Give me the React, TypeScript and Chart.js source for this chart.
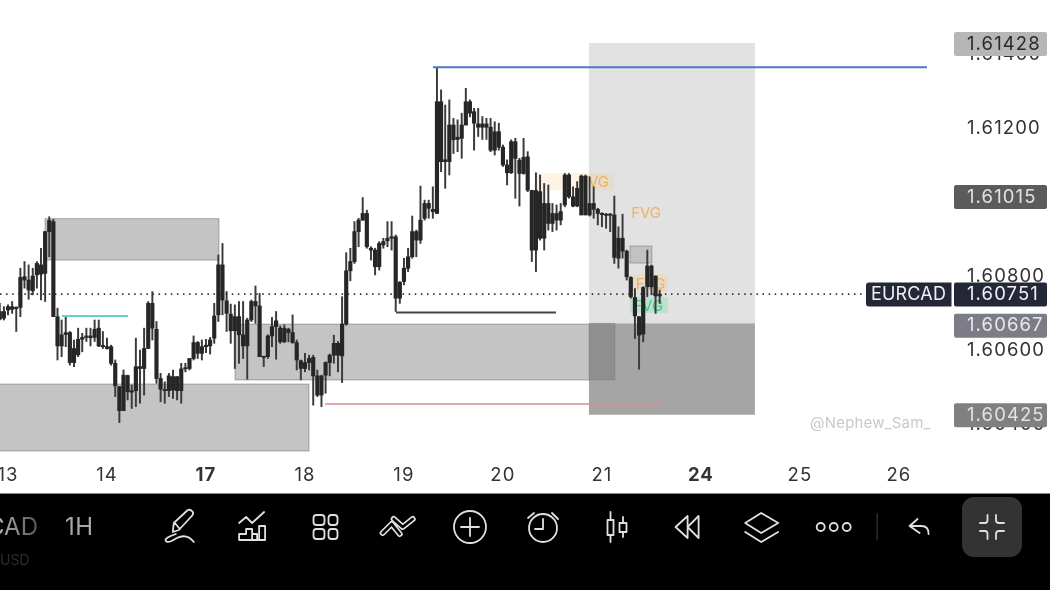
import React, { useEffect, useRef } from "react";
import { Chart, registerables } from "chart.js";

Chart.register(...registerables);

const FONT = "Inter, 'Liberation Sans', sans-serif";

// hourly candles: position 0 is the first bar of day "13", one unit is one hour
const firstHour = -2;
const opens = [
1.60683,1.60704,1.60708,1.60717,1.60712,1.60715,1.60798,1.60789,1.60760,1.60803,1.60830,1.60807,1.60920,1.60947,1.60690,1.60611,1.60642,1.60647,1.60566,1.60587,
1.60629,1.60634,1.60638,1.60634,1.60659,1.60611,1.60609,1.60609,1.60564,1.60501,1.60436,1.60531,1.60486,1.60490,1.60555,1.60550,1.60604,1.60726,1.60656,1.60523,
1.60492,1.60490,1.60528,1.60490,1.60490,1.60549,1.60550,1.60577,1.60620,1.60591,1.60609,1.60611,1.60632,1.60695,1.60830,1.60733,1.60697,1.60652,1.60690,1.60641,
1.60611,1.60681,1.60731,1.60719,1.60582,1.60582,1.60638,1.60663,1.60659,1.60622,1.60656,1.60647,1.60620,1.60571,1.60550,1.60566,1.60580,1.60530,1.60478,1.60532,
1.60566,1.60586,1.60618,1.60584,1.60670,1.60814,1.60839,1.60920,1.60951,1.60969,1.60875,1.60870,1.60825,1.60884,1.60895,1.60902,1.60906,1.60740,1.60785,1.60821,
1.60852,1.60920,1.60897,1.60956,1.60996,1.60980,1.60969,1.61271,1.61109,1.61109,1.61208,1.61169,1.61172,1.61208,1.61271,1.61244,1.61211,1.61202,1.61211,1.61202,
1.61140,1.61190,1.61148,1.61100,1.61079,1.61163,1.61113,1.61077,1.61122,1.61031,1.60870,1.61028,1.60902,1.60996,1.60942,1.60969,1.60951,1.60992,1.61073,1.61014,
1.60989,1.60965,1.61070,1.60965,1.60996,1.60980,1.60969,1.60967,1.60967,1.60965,1.60848,1.60902,1.60867,1.60796,1.60742,1.60690,1.60643,1.60771,1.60827,1.60800,
1.60746];
const closes = [
1.60704,1.60686,1.60717,1.60710,1.60715,1.60796,1.60789,1.60762,1.60800,1.60834,1.60805,1.60920,1.60950,1.60690,1.60611,1.60641,1.60647,1.60566,1.60604,1.60629,
1.60634,1.60638,1.60633,1.60656,1.60611,1.60609,1.60604,1.60564,1.60503,1.60436,1.60532,1.60487,1.60490,1.60555,1.60550,1.60604,1.60726,1.60659,1.60523,1.60494,
1.60490,1.60530,1.60492,1.60528,1.60549,1.60550,1.60577,1.60620,1.60591,1.60609,1.60613,1.60627,1.60692,1.60830,1.60735,1.60699,1.60652,1.60690,1.60641,1.60611,
1.60681,1.60731,1.60719,1.60582,1.60580,1.60638,1.60663,1.60679,1.60622,1.60659,1.60647,1.60620,1.60573,1.60550,1.60566,1.60577,1.60530,1.60478,1.60530,1.60566,
1.60586,1.60618,1.60586,1.60670,1.60814,1.60839,1.60920,1.60951,1.60969,1.60879,1.60870,1.60825,1.60888,1.60893,1.60902,1.60906,1.60740,1.60783,1.60821,1.60852,
1.60920,1.60897,1.60951,1.60996,1.60983,1.60974,1.61271,1.61109,1.61114,1.61208,1.61168,1.61175,1.61208,1.61271,1.61240,1.61213,1.61202,1.61211,1.61202,1.61140,
1.61190,1.61148,1.61100,1.61079,1.61163,1.61118,1.61077,1.61121,1.61032,1.60870,1.61031,1.60902,1.60996,1.60942,1.60969,1.60951,1.60974,1.61073,1.61014,1.60989,
1.61037,1.61070,1.60965,1.60996,1.60980,1.60969,1.60966,1.60964,1.60964,1.60850,1.60902,1.60867,1.60798,1.60744,1.60692,1.60640,1.60769,1.60827,1.60771,1.60746,
1.60751];
const highs = [
1.60726,1.60717,1.60722,1.60731,1.60717,1.60821,1.60839,1.60830,1.60821,1.60839,1.60875,1.60920,1.60960,1.60953,1.60713,1.60681,1.60690,1.60650,1.60627,1.60659,
1.60645,1.60659,1.60659,1.60681,1.60681,1.60650,1.60632,1.60613,1.60573,1.60501,1.60546,1.60532,1.60505,1.60632,1.60600,1.60659,1.60731,1.60758,1.60677,1.60537,
1.60514,1.60537,1.60546,1.60528,1.60564,1.60564,1.60577,1.60638,1.60623,1.60627,1.60629,1.60634,1.60726,1.60857,1.60888,1.60758,1.60724,1.60722,1.60731,1.60731,
1.60686,1.60735,1.60773,1.60753,1.60582,1.60641,1.60688,1.60704,1.60665,1.60668,1.60659,1.60695,1.60627,1.60573,1.60591,1.60586,1.60586,1.60546,1.60532,1.60568,
1.60589,1.60640,1.60623,1.60744,1.60863,1.60875,1.60947,1.60956,1.61012,1.60978,1.60879,1.60875,1.60893,1.60902,1.60947,1.60947,1.60911,1.60785,1.60848,1.60875,
1.60962,1.60924,1.61043,1.61005,1.61005,1.61041,1.61364,1.61303,1.61262,1.61276,1.61226,1.61222,1.61240,1.61307,1.61276,1.61253,1.61253,1.61231,1.61226,1.61226,
1.61217,1.61213,1.61154,1.61114,1.61168,1.61172,1.61118,1.61172,1.61136,1.61032,1.61079,1.61073,1.61050,1.61046,1.60996,1.60992,1.60996,1.61077,1.61077,1.61041,
1.61055,1.61073,1.61073,1.61068,1.61041,1.60983,1.60971,1.60969,1.60969,1.61016,1.60933,1.60967,1.60870,1.60798,1.60766,1.60690,1.60771,1.60870,1.60830,1.60800,
1.60762];
const lows = [
1.60681,1.60681,1.60695,1.60699,1.60650,1.60690,1.60767,1.60737,1.60749,1.60767,1.60735,1.60731,1.60852,1.60690,1.60573,1.60582,1.60609,1.60559,1.60555,1.60582,
1.60595,1.60623,1.60611,1.60623,1.60609,1.60604,1.60602,1.60559,1.60474,1.60404,1.60436,1.60465,1.60442,1.60447,1.60456,1.60478,1.60604,1.60627,1.60510,1.60460,
1.60456,1.60474,1.60469,1.60465,1.60456,1.60541,1.60546,1.60573,1.60577,1.60573,1.60593,1.60589,1.60618,1.60677,1.60695,1.60650,1.60618,1.60550,1.60564,1.60577,
1.60521,1.60677,1.60672,1.60582,1.60555,1.60577,1.60609,1.60575,1.60618,1.60620,1.60622,1.60618,1.60546,1.60519,1.60541,1.60546,1.60451,1.60474,1.60447,1.60483,
1.60530,1.60564,1.60541,1.60512,1.60667,1.60787,1.60834,1.60879,1.60950,1.60875,1.60843,1.60803,1.60816,1.60875,1.60879,1.60870,1.60704,1.60726,1.60776,1.60812,
1.60848,1.60852,1.60888,1.60951,1.60956,1.60956,1.60969,1.61082,1.61037,1.61073,1.61131,1.61136,1.61118,1.61208,1.61230,1.61140,1.61177,1.61169,1.61169,1.61136,
1.61127,1.61140,1.61096,1.61046,1.61077,1.61010,1.60989,1.61075,1.61028,1.60839,1.60812,1.60897,1.60870,1.60924,1.60920,1.60924,1.60938,1.60987,1.61010,1.60987,
1.60987,1.60965,1.60965,1.60962,1.60956,1.60938,1.60933,1.60929,1.60920,1.60834,1.60821,1.60848,1.60789,1.60740,1.60631,1.60548,1.60622,1.60744,1.60749,1.60699,
1.60726];

// y axis
const yTickStep = 0.002;
const hiddenTick = "1.61000";
// x axis: day labels every 24 hours
const dayLabels = ["13", "14", "17", "18", "19", "20", "21", "24", "25", "26"];
const boldDays = ["17", "24"];

// price tags on the right
const tagPrices = [1.61428, 1.61015, 1.60751, 1.60667, 1.60425];
const tagFills = ["#b6b6b6", "#5b5b5b", "#242836", "#7c7c86", "#808080"];
const tagInks = ["#2b2b2b", "#e2e2e2", "#eef0f4", "#e8e8ec", "#e2e2e2"];
const symbolName = "EURCAD";

// zones: [hourStart, hourEnd, priceTop, priceBottom]
const supplyZones = [
  [8.97, 51.15, 1.60955, 1.60843],
  [-4, 72.97, 1.60508, 1.60327],
  [55.03, 147.15, 1.6067, 1.60519],
];
const smallZone = [150.8, 156.1, 1.60881, 1.60835];
const positionTool = [140.85, 181.09, 1.6143, 1.60672, 1.60425];
const fvgBoxes = [
  [127.76, 146.9, 1.61078, 1.61032],
  [150.8, 160, 1.60805, 1.60759],
];
const greenBox = [150.8, 160, 1.60743, 1.607];
// FVG captions: [hour, price]
const fvgLabels = [[142.1, 1.61052], [154.7, 1.60968], [155.8, 1.60777]];
const greenLabel = [155.2, 1.60718];

// levels: hourStart, hourEnd, price
const blueLevel = [103.03, 222.8, 1.61364];
const blackLevel = [94.06, 132.85, 1.60701];
const redLevel = [76.85, 159.03, 1.60454];
const cyanLevel = [13.09, 29.09, 1.60692];
const lastPriceLevel = [-1.94, 208.5, 1.60751];

const level = (l: number[]) => [{ x: l[0], y: l[2] }, { x: l[1], y: l[2] }];

const decor = {
  id: "decor",
  beforeDraw(c: any) {
    // the original axis text is slightly tracked
    c.ctx.letterSpacing = "1.1px";
  },
  beforeDatasetsDraw(c: any) {
    const { ctx, scales: { x, y } } = c;
    ctx.letterSpacing = "0px";
    const box = (b: number[], fill: string, stroke?: string) => {
      const l = x.getPixelForValue(b[0]), r = x.getPixelForValue(b[1]);
      const t = y.getPixelForValue(b[2]), bt = y.getPixelForValue(b[3]);
      ctx.fillStyle = fill;
      ctx.fillRect(l, t, r - l, bt - t);
      if (stroke) { ctx.strokeStyle = stroke; ctx.lineWidth = 1; ctx.strokeRect(l, t, r - l, bt - t); }
    };
    ctx.save();
    const [pl, pr, pt, pm, pb] = positionTool;
    box([pl, pr, pt, pm], "#e2e2e2");
    supplyZones.forEach((z) => box(z, "rgba(0,0,0,0.23)", "rgba(0,0,0,0.28)"));
    box([pl, pr, pm, pb], "#a5a5a5");
    const mid = supplyZones[2];
    box([pl, mid[1], pm, mid[3]], "rgba(0,0,0,0.13)", "rgba(0,0,0,0.1)");
    box(smallZone, "rgba(0,0,0,0.14)", "rgba(0,0,0,0.25)");
    fvgBoxes.forEach((f) => box(f, "rgba(255,190,100,0.18)"));
    box(greenBox, "rgba(60,220,140,0.22)");
    ctx.font = `15px ${FONT}`;
    ctx.textAlign = "center";
    ctx.textBaseline = "middle";
    ctx.fillStyle = "#efb162";
    fvgLabels.forEach(([h, p]) => ctx.fillText("FVG", x.getPixelForValue(h), y.getPixelForValue(p)));
    ctx.fillStyle = "#45c98a";
    ctx.fillText("FVG", x.getPixelForValue(greenLabel[0]), y.getPixelForValue(greenLabel[1]));
    // watermark
    ctx.font = `15px ${FONT}`;
    ctx.letterSpacing = "0.2px";
    ctx.fillStyle = "#c9c9c9";
    ctx.textAlign = "left";
    ctx.fillText("@Nephew_Sam_", 810, 423);
    ctx.restore();
  },
  afterDraw(c: any) {
    const { ctx, scales: { y } } = c;
    ctx.save();
    ctx.textBaseline = "middle";
    tagPrices.forEach((p, i) => {
      const cy = y.getPixelForValue(p) + 0.5;
      ctx.fillStyle = tagFills[i];
      ctx.beginPath();
      ctx.roundRect(954, cy - 12, 93, 24, 2);
      ctx.fill();
      if (p === 1.60751) {
        ctx.beginPath();
        ctx.roundRect(866, cy - 12, 85.5, 24, [3, 0, 0, 3]);
        ctx.fill();
        ctx.fillStyle = tagInks[i];
        ctx.textAlign = "center";
        ctx.letterSpacing = "0.2px";
        ctx.font = `18px ${FONT}`;
        ctx.fillText(symbolName, 908.5, cy);
      }
      ctx.fillStyle = tagInks[i];
      ctx.textAlign = "left";
      ctx.letterSpacing = "1.1px";
      ctx.font = `18.5px ${FONT}`;
      ctx.fillText(p.toFixed(5), 967, cy);
    });
    ctx.letterSpacing = "0px";
    drawToolbar(ctx);
    ctx.restore();
  },
};

function drawToolbar(ctx: CanvasRenderingContext2D) {
  ctx.fillStyle = "#8a8a8a";
  ctx.fillRect(0, 493, 1050, 1);
  ctx.fillStyle = "#000";
  ctx.fillRect(0, 494, 1050, 96);

  ctx.textBaseline = "middle";
  ctx.textAlign = "right";
  ctx.font = `24px ${FONT}`;
  const g = ctx.createLinearGradient(0, 0, 38, 0);
  g.addColorStop(0, "#b0b0b0");
  g.addColorStop(1, "#555");
  ctx.fillStyle = g;
  ctx.fillText("CAD", 38, 528);
  ctx.fillStyle = "#a8a8a8";
  ctx.textAlign = "left";
  ctx.letterSpacing = "0.6px";
  ctx.fillText("1H", 65, 528);
  ctx.letterSpacing = "0px";
  ctx.font = `14px ${FONT}`;
  ctx.fillStyle = "#2c2c2c";
  ctx.fillText("USD", 0, 561);

  ctx.fillStyle = "#333";
  ctx.beginPath();
  ctx.roundRect(962, 497, 60, 60, 12);
  ctx.fill();
  ctx.fillStyle = "#2a2a2a";
  ctx.fillRect(876.5, 513, 1.5, 27);

  ctx.strokeStyle = "#e0e0e0";
  ctx.lineWidth = 1.8;
  ctx.lineJoin = "round";
  ctx.lineCap = "round";
  const icons: [string, number][] = [
    ["M172 532 L173 523 L187 510 Q190 509 192 512 Q193 514 191 516 L178 530 Z M174 523 L179 529 M175 534 Q163 538 165 541 Q167 544 176 538 Q186 533 193 542", 0.8],
    ["M238 523 L245 517 L251 523 L263 512 M238 540 V534 H245 V529 H251 V540 M251 534 H256 V540 M258 540 V526 H264 V540 H238", 1.1],
    ["M312 518 a3 3 0 0 1 3 -3 h5 a3 3 0 0 1 3 3 v4 a3 3 0 0 1 -3 3 h-5 a3 3 0 0 1 -3 -3 Z M327 518 a3 3 0 0 1 3 -3 h3 a3 3 0 0 1 3 3 v4 a3 3 0 0 1 -3 3 h-3 a3 3 0 0 1 -3 -3 Z M312 532 a3 3 0 0 1 3 -3 h5 a3 3 0 0 1 3 3 v4 a3 3 0 0 1 -3 3 h-5 a3 3 0 0 1 -3 -3 Z M327 532 a3 3 0 0 1 3 -3 h3 a3 3 0 0 1 3 3 v4 a3 3 0 0 1 -3 3 h-3 a3 3 0 0 1 -3 -3 Z", 1.5],
    ["M484 527 a16 16 0 1 1 -32 0 a16 16 0 1 1 32 0 Z M459 527 H477 M468 518 V536", 2],
    ["M557 528 a14 14 0 1 1 -28 0 a14 14 0 1 1 28 0 Z M543 519 V529 H535 M528 518 L534 513 M552 513 L558 519", 0],
    ["M607 520 h6 v15 h-6 Z M610 512 V520 M610 535 V542 M619 523 h7 v9 h-7 Z M622.5 517 V523 M622.5 532 V537", 0.5],
    ["M675 527 L687 516 V538 Z M687 527 L698 516 V538 Z", 0.6],
    ["M760 513 L777 523 L760 533 L744 523 Z M744 532 L760 542 L777 532", 1.2],
    ["M823 527 a4 4 0 1 1 -8 0 a4 4 0 1 1 8 0 Z M836 527 a4 4 0 1 1 -8 0 a4 4 0 1 1 8 0 Z M849 527 a4 4 0 1 1 -8 0 a4 4 0 1 1 8 0 Z", 1.7],
    ["M916 519 L908 526 L918 533 M908 526 H920 Q927 526 927 534", 1.6],
    ["M978 523 H983 Q985.5 523 985.5 520 V515 M994 515 V520 Q994 523 997 523 H1002 M978 531 H983 Q985.5 531 985.5 534 V539 M1002 531 H997 Q994 531 994 534 V539", 2],
  ];
  icons.forEach(([d, dx]) => {
    ctx.save();
    ctx.translate(dx, 0);
    ctx.stroke(new Path2D(d));
    ctx.restore();
  });
  // double-ruled chevrons
  ctx.translate(1.7, 0);
  const zig = new Path2D("M381 533 L390 524 L398 534 M392 519 L401 527 L411 519");
  ctx.lineWidth = 6;
  ctx.stroke(zig);
  ctx.strokeStyle = "#000";
  ctx.lineWidth = 2.6;
  ctx.stroke(zig);
}

export default function App() {
  const ref = useRef<HTMLCanvasElement>(null);
  useEffect(() => {
    document.body.style.margin = "0";
    const xs = opens.map((_, i) => firstHour + i);
    const levelDs = (l: number[], color: string, width: number, dash: number[] = []) => ({
      type: "line" as const,
      data: level(l),
      borderColor: color,
      borderWidth: width,
      borderDash: dash,
      pointRadius: 0,
      order: 0,
    });
    const chart = new Chart(ref.current!, {
      type: "bar",
      data: {
        datasets: [
          levelDs(lastPriceLevel, "#333333", 1.7, [1.5, 4.6]),
          levelDs(blueLevel, "#4c76c9", 2),
          levelDs(blackLevel, "#444444", 2),
          levelDs(redLevel, "#dc8c8c", 1.3),
          levelDs(cyanLevel, "#62d2ce", 2),
          {
            data: xs.map((h, i) => ({ x: h, y: [lows[i], highs[i]] })),
            backgroundColor: "#3a3a3a",
            barThickness: 1.3,
            grouped: false,
            borderSkipped: false,
            order: 2,
          },
          {
            data: xs.map((h, i) => ({ x: h, y: [opens[i], closes[i]] })),
            backgroundColor: "#262626",
            barThickness: 3.5,
            minBarLength: 1.2,
            grouped: false,
            borderSkipped: false,
            order: 1,
          },
        ] as any,
      },
      options: {
        responsive: false,
        animation: false,
        events: [],
        layout: { padding: { left: 0, right: 0, top: 0, bottom: 97 } },
        plugins: { legend: { display: false }, tooltip: { enabled: false } },
        scales: {
          x: {
            type: "linear",
            offset: false,
            min: -1.94,
            max: 229.6,
            afterFit: (s: any) => { s.height = 38; s.paddingLeft = 0; s.paddingRight = 0; },
            grid: { display: false, drawTicks: false },
            border: { display: false },
            ticks: {
              stepSize: 24,
              includeBounds: false,
              autoSkip: false,
              maxRotation: 0,
              padding: 9,
              color: "#333",
              font: (ctx: any) => ({
                family: FONT,
                size: 18.5,
                weight: boldDays.includes(dayLabels[Math.round((ctx.tick?.value ?? 0) / 24)]) ? 700 : 400,
              }),
              callback: (v: any) => dayLabels[Math.round(v / 24)] ?? "",
            },
          },
          y: {
            position: "right",
            min: 1.603162,
            max: 1.615459,
            afterFit: (s: any) => { s.width = 95; s.paddingTop = 0; s.paddingBottom = 0; },
            grid: { display: false, drawTicks: false },
            border: { display: false },
            ticks: {
              stepSize: yTickStep,
              includeBounds: false,
              padding: 12,
              color: "#333",
              font: { family: FONT, size: 18.5 },
              callback: (v: any) => (Number(v).toFixed(5) === hiddenTick ? "" : Number(v).toFixed(5)),
            },
          },
        },
      } as any,
      plugins: [decor],
    });
    return () => chart.destroy();
  }, []);
  return (
    <canvas
      ref={ref}
      width={1050}
      height={590}
      style={{ display: "block", width: 1050, height: 590, filter: "blur(0.6px)" }}
    />
  );
}
